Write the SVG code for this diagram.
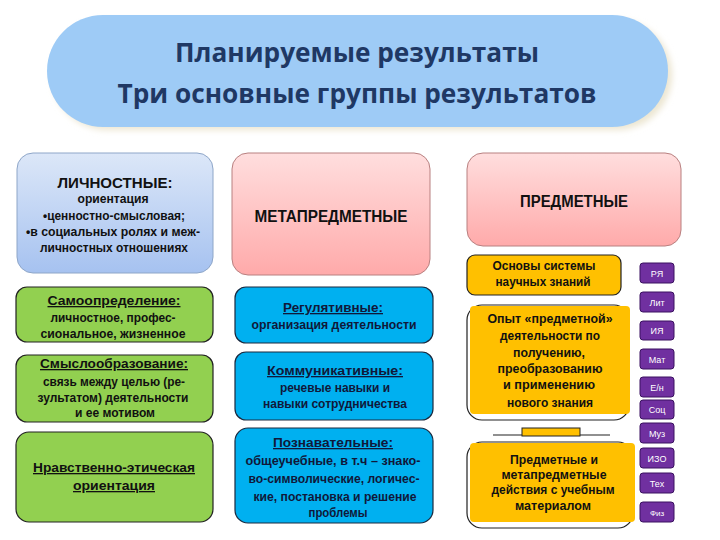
<svg xmlns="http://www.w3.org/2000/svg" width="720" height="540" viewBox="0 0 720 540">
<defs>
<linearGradient id="gBlue" x1="0" y1="0" x2="0" y2="1"><stop offset="0" stop-color="#DCE7F8"/><stop offset="1" stop-color="#A6C2F0"/></linearGradient>
<linearGradient id="gPink" x1="0" y1="0" x2="0" y2="1"><stop offset="0" stop-color="#FFDEDE"/><stop offset="1" stop-color="#FFAAAA"/></linearGradient>
<filter id="glow" x="-10%" y="-20%" width="120%" height="140%"><feGaussianBlur stdDeviation="3"/></filter>
<style>
text{font-family:"Liberation Sans","Noto Sans",sans-serif;font-weight:bold;text-anchor:middle}
.t{font-family:"Open Sans","Noto Sans",sans-serif;font-size:26px;fill:#1F3864}
.h{font-size:14px;fill:#111}
.s{font-size:12px;fill:#111}
.b{font-size:12px;fill:#10183A}
.u{text-decoration:underline}
.grn{fill:#92D050;stroke:#222;stroke-width:1.2}
.cy{fill:#00B0F0;stroke:#1A2A40;stroke-width:1.2}
.or{fill:#FFC000;stroke:#222;stroke-width:1.2}
.pu{fill:#7030A0;stroke:#3A1060;stroke-width:1}
.pl{font-size:9px;fill:#fff;font-weight:normal}
</style>
</defs>
<rect width="720" height="540" fill="#fff"/>
<g id="title">
<rect x="52" y="20" width="620" height="110" rx="55" fill="#ECE6D2" filter="url(#glow)"/>
<rect x="47" y="15" width="621" height="112" rx="56" fill="#9ECBF6"/>
<text class="t" x="357" y="62" textLength="364" lengthAdjust="spacingAndGlyphs">Планируемые результаты</text>
<text class="t" x="357" y="103" textLength="479" lengthAdjust="spacingAndGlyphs">Три основные группы результатов</text>
</g>
<g id="lichnostnye">
<rect x="17" y="153" width="196" height="120" rx="16" fill="url(#gBlue)" stroke="#8EA6C8" stroke-width="1"/>
<text class="h" x="115" y="188" textLength="115" lengthAdjust="spacingAndGlyphs">ЛИЧНОСТНЫЕ:</text>
<text class="s" x="113" y="203" textLength="71" lengthAdjust="spacingAndGlyphs">ориентация</text>
<text class="s" x="114" y="220" textLength="142" lengthAdjust="spacingAndGlyphs">•ценностно-смысловая;</text>
<text class="s" x="113" y="236" textLength="174" lengthAdjust="spacingAndGlyphs">•в социальных ролях и меж-</text>
<text class="s" x="114" y="252" textLength="148" lengthAdjust="spacingAndGlyphs">личностных отношениях</text>
</g>
<g id="metapredmetnye">
<rect x="232" y="153" width="198" height="122" rx="16" fill="url(#gPink)" stroke="#B88080" stroke-width="1"/>
<text class="h" x="331" y="222" style="font-size:16px" textLength="153" lengthAdjust="spacingAndGlyphs">МЕТАПРЕДМЕТНЫЕ</text>
</g>
<g id="predmetnye">
<rect x="467" y="153" width="214" height="93" rx="16" fill="url(#gPink)" stroke="#B88080" stroke-width="1"/>
<text class="h" x="574" y="207" style="font-size:16px" textLength="108" lengthAdjust="spacingAndGlyphs">ПРЕДМЕТНЫЕ</text>
</g>
<g id="samoopredelenie">
<rect class="grn" x="16" y="287" width="197" height="55" rx="11"/>
<text class="s u" x="114" y="305" style="font-size:13px" textLength="133" lengthAdjust="spacingAndGlyphs">Самоопределение:</text>
<text class="s" x="113" y="322" textLength="125" lengthAdjust="spacingAndGlyphs">личностное, профес-</text>
<text class="s" x="113" y="338" textLength="145" lengthAdjust="spacingAndGlyphs">сиональное, жизненное</text>
</g>
<g id="smysloobrazovanie">
<rect class="grn" x="16" y="355" width="197" height="67" rx="11"/>
<text class="s u" x="114" y="368" style="font-size:13px" textLength="148" lengthAdjust="spacingAndGlyphs">Смыслообразование:</text>
<text class="s" x="114" y="386" textLength="142" lengthAdjust="spacingAndGlyphs">связь между целью (ре-</text>
<text class="s" x="113" y="402" textLength="151" lengthAdjust="spacingAndGlyphs">зультатом) деятельности</text>
<text class="s" x="115" y="417" textLength="80" lengthAdjust="spacingAndGlyphs">и ее мотивом</text>
</g>
<g id="nravstvenno">
<rect class="grn" x="16" y="432" width="197" height="90" rx="13"/>
<text class="s u" x="114" y="472" style="font-size:13px" textLength="162" lengthAdjust="spacingAndGlyphs">Нравственно-этическая</text>
<text class="s u" x="114" y="490" style="font-size:13px" textLength="82" lengthAdjust="spacingAndGlyphs">ориентация</text>
</g>
<g id="regulyativnye">
<rect class="cy" x="235" y="287" width="198" height="56" rx="11"/>
<text class="b u" x="333" y="312" style="font-size:13px" textLength="100" lengthAdjust="spacingAndGlyphs">Регулятивные:</text>
<text class="b" x="334" y="329" textLength="165" lengthAdjust="spacingAndGlyphs">организация деятельности</text>
</g>
<g id="kommunikativnye">
<rect class="cy" x="235" y="352" width="198" height="68" rx="11"/>
<text class="b u" x="335" y="375" style="font-size:13px" textLength="136" lengthAdjust="spacingAndGlyphs">Коммуникативные:</text>
<text class="b" x="335" y="392" textLength="110" lengthAdjust="spacingAndGlyphs">речевые навыки и</text>
<text class="b" x="335" y="408" textLength="144" lengthAdjust="spacingAndGlyphs">навыки сотрудничества</text>
</g>
<g id="poznavatelnye">
<rect class="cy" x="235" y="428" width="198" height="95" rx="13"/>
<text class="b u" x="333" y="447" style="font-size:13px" textLength="120" lengthAdjust="spacingAndGlyphs">Познавательные:</text>
<text class="b" x="333" y="465" textLength="175" lengthAdjust="spacingAndGlyphs">общеучебные, в т.ч – знако-</text>
<text class="b" x="334" y="483" textLength="171" lengthAdjust="spacingAndGlyphs">во-символические, логичес-</text>
<text class="b" x="335" y="501" textLength="163" lengthAdjust="spacingAndGlyphs">кие, постановка и решение</text>
<text class="b" x="338" y="517" textLength="59" lengthAdjust="spacingAndGlyphs">проблемы</text>
</g>
<g id="osnovy">
<rect class="or" x="467" y="255" width="154" height="40" rx="8"/>
<text class="s" x="544" y="270" textLength="103" lengthAdjust="spacingAndGlyphs">Основы системы</text>
<text class="s" x="543" y="286" textLength="95" lengthAdjust="spacingAndGlyphs">научных знаний</text>
</g>
<g id="opyt">
<rect x="467" y="305" width="162" height="115" rx="15" fill="#fff" stroke="#222" stroke-width="1.2"/>
<rect x="470" y="306" width="160" height="108" rx="4" fill="#FFC000"/>
<text class="s" x="550" y="323" textLength="125" lengthAdjust="spacingAndGlyphs">Опыт «предметной»</text>
<text class="s" x="550" y="340" textLength="100" lengthAdjust="spacingAndGlyphs">деятельности по</text>
<text class="s" x="549" y="357" textLength="72" lengthAdjust="spacingAndGlyphs">получению,</text>
<text class="s" x="550" y="373" textLength="105" lengthAdjust="spacingAndGlyphs">преобразованию</text>
<text class="s" x="549" y="389" textLength="92" lengthAdjust="spacingAndGlyphs">и применению</text>
<text class="s" x="550" y="407" textLength="86" lengthAdjust="spacingAndGlyphs">нового знания</text>
</g>
<g id="connectors">
<line x1="493" y1="435" x2="610" y2="435" stroke="#222" stroke-width="1.2"/>
<rect x="522" y="428" width="58" height="8" fill="#FFC000" stroke="#222" stroke-width="1"/>
</g>
<g id="predmetnye-deistviya">
<rect x="467" y="442" width="166" height="86" rx="15" fill="#fff" stroke="#222" stroke-width="1.2"/>
<rect x="470" y="443" width="165" height="79" rx="4" fill="#FFC000"/>
<text class="s" x="554" y="464" textLength="88" lengthAdjust="spacingAndGlyphs">Предметные и</text>
<text class="s" x="554" y="479" textLength="105" lengthAdjust="spacingAndGlyphs">метапредметные</text>
<text class="s" x="553" y="494" textLength="123" lengthAdjust="spacingAndGlyphs">действия с учебным</text>
<text class="s" x="553" y="510" textLength="76" lengthAdjust="spacingAndGlyphs">материалом</text>
</g>
<g id="subjects">
<g id="s-ra"><rect class="pu" x="640" y="263" width="34" height="20" rx="3"/><text class="pl" x="657" y="277">РЯ</text></g>
<g id="s-lit"><rect class="pu" x="640" y="292" width="34" height="20" rx="3"/><text class="pl" x="657" y="306">Лит</text></g>
<g id="s-ia"><rect class="pu" x="640" y="321" width="34" height="19" rx="3"/><text class="pl" x="657" y="334">ИЯ</text></g>
<g id="s-mat"><rect class="pu" x="640" y="349" width="34" height="20" rx="3"/><text class="pl" x="657" y="363">Мат</text></g>
<g id="s-en"><rect class="pu" x="640" y="377" width="34" height="20" rx="3"/><text class="pl" x="657" y="391">Е/н</text></g>
<g id="s-soc"><rect class="pu" x="640" y="400" width="34" height="19" rx="3"/><text class="pl" x="657" y="413">Соц</text></g>
<g id="s-muz"><rect class="pu" x="640" y="423" width="34" height="20" rx="3"/><text class="pl" x="657" y="437">Муз</text></g>
<g id="s-izo"><rect class="pu" x="640" y="448" width="34" height="20" rx="3"/><text class="pl" x="657" y="462">ИЗО</text></g>
<g id="s-teh"><rect class="pu" x="640" y="473" width="34" height="20" rx="3"/><text class="pl" x="657" y="487">Тех</text></g>
<g id="s-fiz"><rect class="pu" x="640" y="502" width="34" height="20" rx="3"/><text class="pl" x="657" y="516" style="font-size:8px">Физ</text></g>
</g>
</svg>
